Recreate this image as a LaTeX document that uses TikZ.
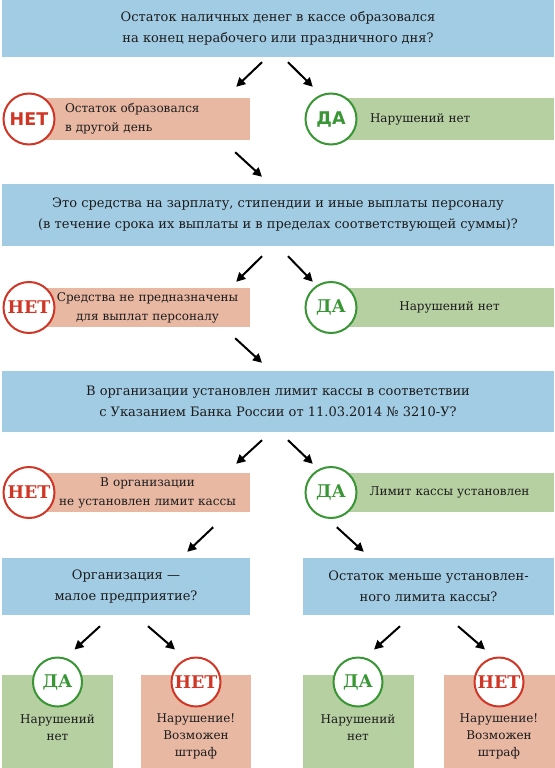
\documentclass[tikz,border=0pt]{standalone}
\usepackage{fontspec}
\setmainfont{DejaVu Serif}
\newfontfamily\tagsans{DejaVu Sans}
\usetikzlibrary{positioning,arrows.meta}
\definecolor{qblue}{RGB}{161,204,228}
\definecolor{nopink}{RGB}{232,184,163}
\definecolor{yesgreen}{RGB}{183,208,162}
\definecolor{nored}{RGB}{208,54,38}
\definecolor{yesdark}{RGB}{56,150,52}
\definecolor{ink}{RGB}{28,28,28}

\tikzset{
  qbox/.style={fill=qblue, inner sep=0pt, align=center, text=ink,
    font=\fontsize{13}{21}\selectfont},
  nobox/.style={fill=nopink, inner sep=0pt, minimum width=205pt, text=ink,
    font=\fontsize{12}{19}\selectfont},
  yesbox/.style={fill=yesgreen, inner sep=0pt, minimum width=209pt, text=ink,
    font=\fontsize{12}{19}\selectfont},
  notag/.style={circle, draw=nored, line width=2pt, fill=white, minimum size=51pt,
    inner sep=0pt, text=nored, font=\fontsize{17.5}{17.5}\selectfont\bfseries},
  yestag/.style={notag, draw=yesdark, text=yesdark},
  endtext/.style={align=center, anchor=north, text=ink, inner sep=0pt,
    font=\fontsize{12}{17}\selectfont},
  arr/.style={->, line width=2pt, black}
}

\begin{document}
\begin{tikzpicture}[x=1pt, y=-1pt, >={Triangle[length=9pt,width=9pt]}]
\useasboundingbox (0,0) rectangle (554,768);

% first question
\node[qbox, minimum width=552pt, minimum height=57pt] (q1) at (278,28.5)
    {Остаток наличных денег в кассе образовался\\на конец нерабочего или праздничного дня?};
\node[nobox, minimum height=42pt, text width=165pt, inner xsep=20pt, align=left] (no1) at (147.5,119)
    {Остаток образовался\\в другой день};
\node[yesbox, minimum height=42pt, text width=159pt, inner xsep=25pt, align=left] (ye1) at (449.5,119)
    {Нарушений нет};
\node[notag, font=\fontsize{17.5}{17.5}\selectfont\tagsans\bfseries] (nc1) at (29,119) {НЕТ};
\node[yestag, font=\fontsize{17.5}{17.5}\selectfont\tagsans\bfseries] (yc1) at (331,119) {ДА};

% second question
\node[qbox, minimum width=552pt, minimum height=62pt] (q2) at (278,215)
    {Это средства на зарплату, стипендии и иные выплаты персоналу\\(в течение срока их выплаты и в пределах соответствующей суммы)?};
\node[nobox, minimum height=39pt, text width=205pt, align=center] (no2) at (147.5,307.5)
    {Средства не предназначены\\для выплат персоналу};
\node[yesbox, minimum height=39pt, text width=209pt, align=center] (ye2) at (449.5,307.5)
    {Нарушений нет};
\node[notag] (nc2) at (29,307.5) {НЕТ};
\node[yestag] (yc2) at (331,307.5) {ДА};

% third question
\node[qbox, minimum width=552pt, minimum height=61pt] (q3) at (278,401.5)
    {В организации установлен лимит кассы в соответствии\\с Указанием Банка России от 11.03.2014 №~3210-У?};
\node[nobox, minimum height=39pt, text width=205pt, align=center] (no3) at (147.5,492.5)
    {В организации\\не установлен лимит кассы};
\node[yesbox, minimum height=39pt, text width=209pt, align=center] (ye3) at (449.5,492.5)
    {Лимит кассы установлен};
\node[notag] (nc3) at (29,492.5) {НЕТ};
\node[yestag] (yc3) at (331,492.5) {ДА};

% fourth level
\node[qbox, minimum width=248pt, minimum height=57pt] (q4l) at (126,586.5)
    {Организация~---\\малое предприятие?};
\node[qbox, minimum width=251pt, minimum height=57pt] (q4r) at (428.5,586.5)
    {Остаток меньше установлен-\\ного лимита кассы?};

% end boxes
\node[fill=yesgreen, minimum width=111pt, minimum height=93pt] (b1) at (57.5,721.5) {};
\node[fill=nopink, minimum width=110pt, minimum height=93pt] (b2) at (196,721.5) {};
\node[fill=yesgreen, minimum width=111pt, minimum height=93pt] (b3) at (358,721.5) {};
\node[fill=nopink, minimum width=111pt, minimum height=93pt] (b4) at (499,721.5) {};
\node[yestag, minimum size=49pt] (yc4) at (57.5,682) {ДА};
\node[notag, minimum size=49pt] (nc4) at (196,682) {НЕТ};
\node[yestag, minimum size=49pt] (yc5) at (358,682) {ДА};
\node[notag, minimum size=49pt] (nc5) at (499,682) {НЕТ};
\node[endtext] (t1) at (57.5,714) {Нарушений\\нет};
\node[endtext] (t2) at (196,714) {Нарушение!\\Возможен\\штраф};
\node[endtext] (t3) at (358,714) {Нарушений\\нет};
\node[endtext] (t4) at (499,714) {Нарушение!\\Возможен\\штраф};

% arrows
\draw[arr] ([shift={(-16pt,-5pt)}]q1.south) -- ([shift={(-14pt,11pt)}]no1.north east);
\draw[arr] ([shift={(10pt,-5pt)}]q1.south) -- ([shift={(-32pt,11pt)}]ye1.north west);
\draw[arr] ([shift={(-15pt,-12pt)}]no1.south east) -- ([shift={(-16pt,7pt)}]q2.north);
\draw[arr] ([shift={(-16pt,-10pt)}]q2.south) -- ([shift={(-14pt,6pt)}]no2.north east);
\draw[arr] ([shift={(10pt,-10pt)}]q2.south) -- ([shift={(-32pt,6pt)}]ye2.north west);
\draw[arr] ([shift={(-15pt,-11pt)}]no2.south east) -- ([shift={(-16pt,8pt)}]q3.north);
\draw[arr] ([shift={(-16pt,-8pt)}]q3.south) -- ([shift={(-14pt,9pt)}]no3.north east);
\draw[arr] ([shift={(10pt,-8pt)}]q3.south) -- ([shift={(-32pt,9pt)}]ye3.north west);
\draw[arr] ([shift={(-37pt,-15pt)}]no3.south east) -- ([shift={(-63pt,6pt)}]q4l.north east);
\draw[arr] ([shift={(-8pt,-15pt)}]ye3.south west) -- ([shift={(61pt,6pt)}]q4r.north west);
\draw[arr] ([shift={(-26pt,-11pt)}]q4l.south) -- ([shift={(17pt,7pt)}]yc4.north);
\draw[arr] ([shift={(22pt,-11pt)}]q4l.south) -- ([shift={(-21pt,7pt)}]nc4.north);
\draw[arr] ([shift={(-28.5pt,-11pt)}]q4r.south) -- ([shift={(16pt,7pt)}]yc5.north);
\draw[arr] ([shift={(29.5pt,-11pt)}]q4r.south) -- ([shift={(-14pt,7pt)}]nc5.north);
\end{tikzpicture}
\end{document}
